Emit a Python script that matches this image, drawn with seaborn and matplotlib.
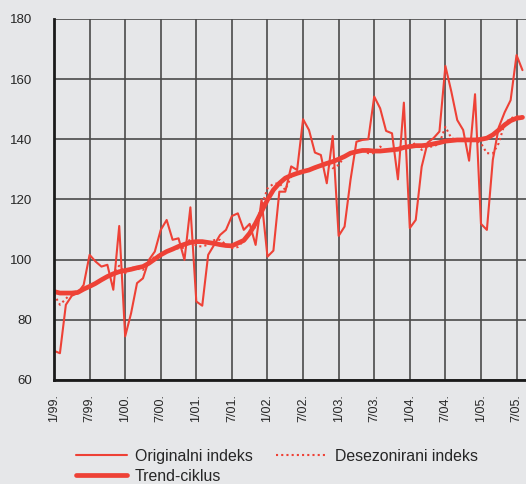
import matplotlib
matplotlib.use("Agg")
import matplotlib.pyplot as plt
import seaborn as sns
import numpy as np
import pandas as pd

# monthly index, 1/99 .. 8/05
mjesec = np.arange(80)

originalni = [69.7, 68.9, 85, 88, 88.9, 91.6, 101.6, 99.4, 97.7, 98.3, 90, 111.2,
              74.5, 82.2, 92.2, 93.8, 99.9, 102.7, 109.9, 113.2, 106.6, 107.1, 99.9, 117.4,
              86.1, 84.7, 101.6, 104.9, 108.2, 109.9, 114.5, 115.4, 109.9, 111.9, 104.9, 119.9,
              101, 103, 122.6, 122.6, 131, 129.8, 146.7, 143.1, 135.6, 134.8, 125.4, 141.1,
              107.9, 111, 126.5, 139.2, 139.8, 140, 154.2, 150.3, 142.8, 142, 126.7, 152.2,
              110.5, 113.2, 130.9, 138.9, 140.4, 142.6, 164.4, 155.9, 146.4, 143.1, 132.9, 155,
              111.9, 109.9, 133.2, 144, 149, 153, 168, 163]

desezonirani = [88.5, 85, 87, 89, 89.5, 90.5, 91, 92, 93, 94.5, 95.5, 98,
                95.5, 97.5, 97, 96.6, 99, 101, 101.6, 102.7, 103.5, 103.8, 104, 107,
                104.5, 104.4, 105, 106.5, 106.6, 105, 103.8, 104.2, 106.4, 108.8, 111, 117.7,
                123.7, 125.2, 125.4, 123.2, 127.7, 128.7, 129.5, 130, 130.3, 131, 132, 130.4,
                131.5, 134.3, 135.4, 136, 136.3, 135.4, 135.4, 137.6, 136, 136.5, 136.7, 137.6,
                138, 138.7, 136.5, 137.6, 137.6, 138.7, 144.2, 140.4, 139.8, 140, 140, 139.8,
                138.7, 135.4, 135.3, 138.7, 145.3, 147, 147.6, 147.6]

trend = [89.4, 88.9, 88.9, 88.9, 89.1, 90.2, 91.1, 92.1, 93.3, 94.4, 95.3, 96,
         96.4, 96.8, 97.3, 97.7, 98.8, 100.2, 101.6, 102.7, 103.5, 104.4, 105.1, 105.7,
         106, 106, 105.7, 105.4, 105, 104.7, 104.6, 105.5, 106.4, 108.8, 112.1, 116,
         119.9, 123.2, 125.4, 127.1, 128, 128.7, 129.3, 129.8, 130.6, 131.3, 132, 132.6,
         133.4, 134.3, 135.4, 135.9, 136.3, 136.3, 136.1, 136.1, 136.3, 136.5, 136.7, 137.3,
         137.6, 137.9, 137.9, 138.1, 138.5, 138.9, 139.4, 139.6, 139.8, 139.8, 139.8, 139.8,
         140, 140.4, 141.5, 143.1, 144.8, 146.2, 147, 147.3]

x_oznake = ["1/99.", "7/99.", "1/00.", "7/00.", "1/01.", "7/01.", "1/02.",
            "7/02.", "1/03.", "7/03.", "1/04.", "7/04.", "1/05.", "7/05."]

bg = "#e6e7e9"
red = "#ee4136"
grid_c = "#4a4a4a"

sns.set_style("white")
plt.rcParams["font.family"] = ["Liberation Sans", "DejaVu Sans"]

df = pd.DataFrame({"mjesec": mjesec, "orig": originalni,
                   "desez": desezonirani, "trend": trend})

fig = plt.figure(figsize=(5.26, 4.84), dpi=100, facecolor=bg)
ax = fig.add_axes([54 / 526, 104 / 484, 1 - 54 / 526, 361 / 484])
ax.set_facecolor(bg)

sns.lineplot(data=df, x="mjesec", y="orig", ax=ax, color=red, lw=1.5,
             label="Originalni indeks")
sns.lineplot(data=df, x="mjesec", y="trend", ax=ax, color=red, lw=3.4,
             label="Trend-ciklus")
sns.lineplot(data=df, x="mjesec", y="desez", ax=ax, color=red, lw=1.5,
             ls=(0, (1, 1.5)), label="Desezonirani indeks")

ax.set_xlim(0, 472 / 5.93)
ax.set_ylim(60, 180)
ax.set_yticks(np.arange(60, 181, 20))
ax.set_xticks(np.arange(0, 6 * len(x_oznake), 6))
ax.set_xticklabels(x_oznake, rotation=90, fontsize=9)
ax.tick_params(axis="y", labelsize=9.5, length=5.8, width=1, color=grid_c, pad=10)
ax.tick_params(axis="x", length=5.5, width=1, color=grid_c, pad=5)
ax.set_xlabel("")
ax.set_ylabel("")
ax.grid(True, color=grid_c, lw=1.2)
for s in ["top", "right"]:
    ax.spines[s].set_visible(False)
for s in ["left", "bottom"]:
    ax.spines[s].set_color("#1a1a1a")
    ax.spines[s].set_linewidth(2)

ax.legend(loc="upper left", bbox_to_anchor=(76 / 526, 35 / 484),
          bbox_transform=fig.transFigure, ncol=2, frameon=False,
          fontsize=11.4, handlelength=3.2, handletextpad=0.5,
          columnspacing=1.5, labelspacing=0.3, borderpad=0, borderaxespad=0)

fig.savefig("out.png", dpi=100, facecolor=bg)
